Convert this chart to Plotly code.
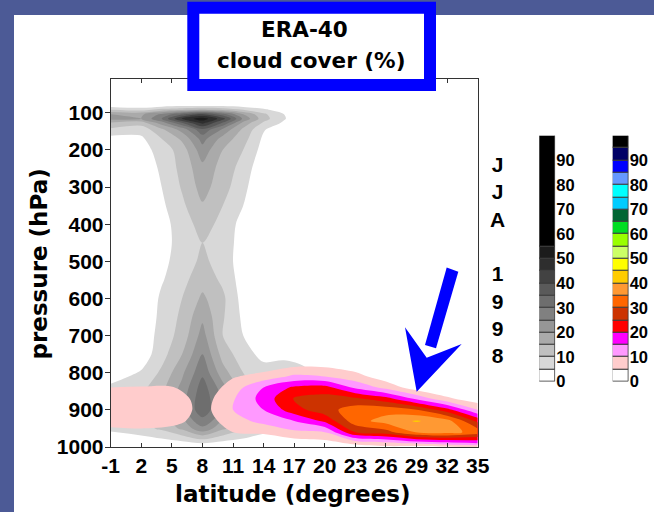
import plotly.graph_objects as go

# ---------------- data ----------------
# grey field (cloud cover %, first ERA-40 field)
lat_grey = [-1, 2, 4, 6, 8, 10, 12, 14, 16, 18, 20, 35]
p_grey = [10, 80, 92, 104, 116, 128, 145, 170, 200, 250, 300, 350, 400, 450,
          500, 550, 600, 650, 700, 750, 800, 850, 900, 950, 1000]
cloud_grey = [
    [0, 0, 0, 0, 0, 0, 0, 0, 0, 0, 0, 0],
    [2, 1, 2, 3, 3, 3, 2, 1, 0, 0, 0, 0],
    [10, 8, 12, 14, 16, 14, 10, 6, 2, 0, 0, 0],
    [20, 19, 26, 34, 40, 32, 20, 11, 5, 0, 0, 0],
    [22, 20, 30, 46, 53, 42, 24, 12, 5.5, 0, 0, 0],
    [14, 12, 22, 34, 46, 34, 18, 9, 4, 0, 0, 0],
    [9, 7, 14, 22, 34, 24, 14, 5.5, 1, 0, 0, 0],
    [3, 4, 10, 16, 27, 18, 12, 4, 0, 0, 0, 0],
    [0, 3, 7, 12.5, 23, 15, 10, 3, 0, 0, 0, 0],
    [0, 1, 6, 11.5, 18.5, 13, 8, 1, 0, 0, 0, 0],
    [0, 0, 5, 10.5, 17, 12, 6.5, 0, 0, 0, 0, 0],
    [0, 0, 4, 9, 14.5, 10, 5, 0, 0, 0, 0, 0],
    [0, 0, 3, 7.5, 12, 8.5, 3, 0, 0, 0, 0, 0],
    [0, 0, 3, 7, 10, 8, 2.5, 0, 0, 0, 0, 0],
    [0, 0, 3.5, 7.5, 11, 8, 2, 0, 0, 0, 0, 0],
    [0, 0, 4.5, 8.5, 13, 9, 2.5, 0, 0, 0, 0, 0],
    [0, 0, 6, 10, 16, 11, 3, 0, 0, 0, 0, 0],
    [0, 0.5, 6.5, 11, 19, 10.5, 4, 0, 0, 0, 0, 0],
    [0, 1.5, 7, 12, 22, 10, 5, 0.5, 0, 0, 0, 0],
    [0, 2, 8, 15, 25, 13, 7, 3.5, 4.5, 4, 0, 0],
    [2, 5.5, 11, 19, 29, 17, 10, 7, 6, 5.5, 2, 0],
    [7, 9, 14, 22, 33, 23, 13, 8, 6, 5, 3, 0],
    [7, 10, 15, 23, 34, 24, 14, 9, 7, 3, 2, 0],
    [6, 8, 11, 16, 24, 16, 11, 7, 6, 2, 0, 0],
    [0, 0, 0, 0, 0, 0, 0, 0, 0, 0, 0, 0],
]

# coloured field (low cloud, cloud cover %)
lat_col = [-1, 2, 5, 8, 11, 14, 17, 20, 23, 26, 29, 32, 35]
p_col = [700, 780, 810, 840, 870, 900, 930, 960, 990, 1000]
cloud_col = [
    [0, 0, 0, 0, 0, 0, 0, 0, 0, 0, 0, 0, 0],
    [0, 0, 0, 0, 0, 2, 4, 4, 2, 0, 0, 0, 0],
    [0, 0, 0, 0, 4.5, 7, 11, 10, 7, 2, 0, 0, 0],
    [5, 5.5, 5.5, 1, 7.5, 15, 21, 22, 14, 8.5, 2, 0, 0],
    [8, 8.5, 8.5, 2.5, 9.5, 17, 25.5, 27, 26, 22, 14, 6, 2],
    [8.5, 9, 9, 3, 10, 15, 23, 28, 32.5, 33, 30, 22, 10],
    [7.5, 8, 7.5, 2, 8, 11.5, 15, 21, 33, 37, 40.5, 37, 24],
    [3, 3.5, 2, 0, 5, 6, 9, 10, 25, 28, 35.5, 37, 33],
    [0, 0, 0, 0, 0, 0, 2, 3, 6, 8, 11, 13, 15],
    [0, 0, 0, 0, 0, 0, 0, 0, 3, 4, 3, 4, 6],
]

# contour levels / colour tables (0-5 band first)
level_start, level_size = 5, 5
grey_colors = ["#ffffff", "#d8d8d8", "#c0c0c0", "#aaaaaa", "#969696", "#808080",
               "#6e6e6e", "#5a5a5a", "#424242", "#2e2e2e", "#1c1c1c", "#000000"]
col_colors = ["#ffffff", "#ffcccc", "#ff99ff", "#ff00ff", "#ff0000", "#cc3300",
              "#ff6600", "#ff9933", "#ffcc00", "#ffff00", "#ccff66", "#99ff00",
              "#00dd22", "#006633", "#00ccff", "#00ffff", "#6699ff", "#0000ff",
              "#000066", "#000000"]
grey_bar_bounds = [0, 5, 10, 15, 20, 25, 30, 35, 40, 45, 50, 55, 100]
col_bar_bounds = list(range(0, 101, 5))
bar_ticks = [0, 10, 20, 30, 40, 50, 60, 70, 80, 90]

lat_ticks = [-1, 2, 5, 8, 11, 14, 17, 20, 23, 26, 29, 32, 35]
p_ticks = [100, 200, 300, 400, 500, 600, 700, 800, 900, 1000]
season_label = ["J", "J", "A", "", "1", "9", "9", "8"]

# ---------------- helpers ----------------
W, H = 654, 512


def px(x):
    return x / W


def py(y):
    return 1 - y / H


def step_scale(colors):
    n = len(colors) - 1
    sc = []
    for k, c in enumerate(colors):
        lo = 0 if k == 0 else (k - 0.5) / n
        hi = 1 if k == n else (k + 0.5) / n
        sc.append([lo, c])
        sc.append([hi, c])
    return sc


WIDE = "DejaVu Sans"
ARIAL = "Liberation Sans"

fig = go.Figure()

# grey field
fig.add_trace(go.Contour(
    x=lat_grey, y=p_grey, z=cloud_grey,
    autocontour=False,
    contours=dict(start=level_start, end=55, size=level_size,
                  coloring="fill", showlines=False),
    colorscale=step_scale(grey_colors),
    line=dict(width=0, smoothing=0.9),
    showscale=False, hoverinfo="skip", xaxis="x", yaxis="y"))

# coloured field (transparent below first level)
col_scale_colors = ["rgba(255,255,255,0)"] + col_colors[1:]
fig.add_trace(go.Contour(
    x=lat_col, y=p_col, z=cloud_col,
    autocontour=False,
    contours=dict(start=level_start, end=95, size=level_size,
                  coloring="fill", showlines=False),
    colorscale=step_scale(col_scale_colors),
    line=dict(width=0, smoothing=0.9),
    showscale=False, hoverinfo="skip", xaxis="x", yaxis="y"))

# colour bars as stacked bars
for bounds, colors, xa, ya in [(grey_bar_bounds, grey_colors, "x2", "y2"),
                               (col_bar_bounds, col_colors, "x3", "y3")]:
    fig.add_trace(go.Bar(
        x=[0] * (len(bounds) - 1),
        y=[bounds[i + 1] - bounds[i] for i in range(len(bounds) - 1)],
        base=bounds[:-1],
        width=1,
        marker=dict(color=colors, line=dict(color="#3c3c3c", width=1)),
        hoverinfo="skip", showlegend=False, xaxis=xa, yaxis=ya))

tickfont = dict(family=ARIAL, size=21, color="black", weight="bold")
axis_common = dict(showgrid=False, zeroline=False, linecolor="#333333",
                   linewidth=1, tickcolor="#333333", tickwidth=1,
                   automargin=False)

y_dom = [py(447), py(79.3)]
cb_dom = [py(381.7), py(135.7)]
cb_font = dict(family=ARIAL, size=16.5, color="black", weight="bold")

fig.update_layout(
    width=W, height=H,
    margin=dict(l=0, r=0, t=0, b=0, pad=0, autoexpand=False),
    paper_bgcolor="#4c5a96",
    plot_bgcolor="white",
    barmode="overlay", bargap=0,
    showlegend=False,
    xaxis=dict(domain=[px(110.7), px(477.7)], range=[-1, 35], anchor="y",
               tickvals=lat_ticks, ticktext=[str(v) for v in lat_ticks],
               ticks="inside", ticklen=4, mirror="ticks", showline=True,
               tickfont=tickfont, **axis_common),
    yaxis=dict(domain=y_dom, range=[1000, 10], anchor="x",
               tickvals=p_ticks, ticktext=[str(v) for v in p_ticks],
               ticks="outside", ticklen=5, mirror=True, showline=True,
               ticklabelstandoff=-3,
               tickfont=tickfont, **axis_common),
    yaxis5=dict(domain=y_dom, range=[1000, 10], anchor="x", overlaying="y",
                side="right", tickvals=p_ticks, ticks="inside", ticklen=5,
                showticklabels=False, showline=False, showgrid=False,
                zeroline=False, tickcolor="#333333", automargin=False),
    xaxis2=dict(domain=[px(539.3), px(555.3)], range=[-0.5, 0.5], anchor="y2",
                visible=False, fixedrange=True, automargin=False),
    yaxis2=dict(domain=cb_dom, range=[0, 100], anchor="x2", side="right",
                tickvals=bar_ticks, ticktext=[str(v) for v in bar_ticks],
                ticks="", showline=False, showgrid=False, zeroline=False,
                tickfont=cb_font, automargin=False),
    xaxis3=dict(domain=[px(612.7), px(628.7)], range=[-0.5, 0.5], anchor="y3",
                visible=False, fixedrange=True, automargin=False),
    yaxis3=dict(domain=cb_dom, range=[0, 100], anchor="x3", side="right",
                tickvals=bar_ticks, ticktext=[str(v) for v in bar_ticks],
                ticks="", showline=False, showgrid=False, zeroline=False,
                tickfont=cb_font, automargin=False),
)

shapes = [
    # white slide panel
    dict(type="rect", xref="paper", yref="paper", x0=px(14), x1=1.01,
         y0=-0.01, y1=py(15), fillcolor="white", line=dict(width=0), layer="below"),
    # title box
    dict(type="rect", xref="paper", yref="paper", x0=px(193.3), x1=px(430),
         y0=py(85), y1=py(7.8), fillcolor="white",
         line=dict(color="#0000ff", width=12), layer="above"),
]


def poly(points):
    s = "M " + " L ".join(f"{px(x):.5f},{py(y):.5f}" for x, y in points) + " Z"
    return s


# blue arrow (shaft + head)
shapes.append(dict(type="path", xref="paper", yref="paper",
                   path=poly([(446.7, 267.5), (458.3, 271.7), (436, 348.3), (425, 345)]),
                   fillcolor="#0000ff", line=dict(width=0), layer="above"))
shapes.append(dict(type="path", xref="paper", yref="paper",
                   path=poly([(405, 327.3), (426.7, 357.7), (461.7, 344), (416.7, 391.7)]),
                   fillcolor="#0000ff", line=dict(width=0), layer="above"))
fig.update_layout(shapes=shapes)

bold_w = dict(family=WIDE, color="black", weight="bold")
bold_a = dict(family=ARIAL, color="black", weight="bold")
annotations = [
    dict(text="ERA-40", x=px(304), y=py(29.5), font=dict(size=21.5, **bold_w)),
    dict(text="cloud cover (%)", x=px(311), y=py(60), font=dict(size=21.5, **bold_w)),
    dict(text="pressure (hPa)", x=px(38.5), y=py(264), textangle=-90,
         font=dict(size=23, **bold_w)),
    dict(text="latitude (degrees)", x=px(293), y=py(494), font=dict(size=23, **bold_w)),
    dict(text="<br>".join(season_label), x=px(497), y=py(260),
         font=dict(size=21, **bold_a)),
]
for a in annotations:
    a.update(xref="paper", yref="paper", showarrow=False,
             xanchor="center", yanchor="middle")
fig.update_layout(annotations=annotations)

fig.write_html("out.html")
